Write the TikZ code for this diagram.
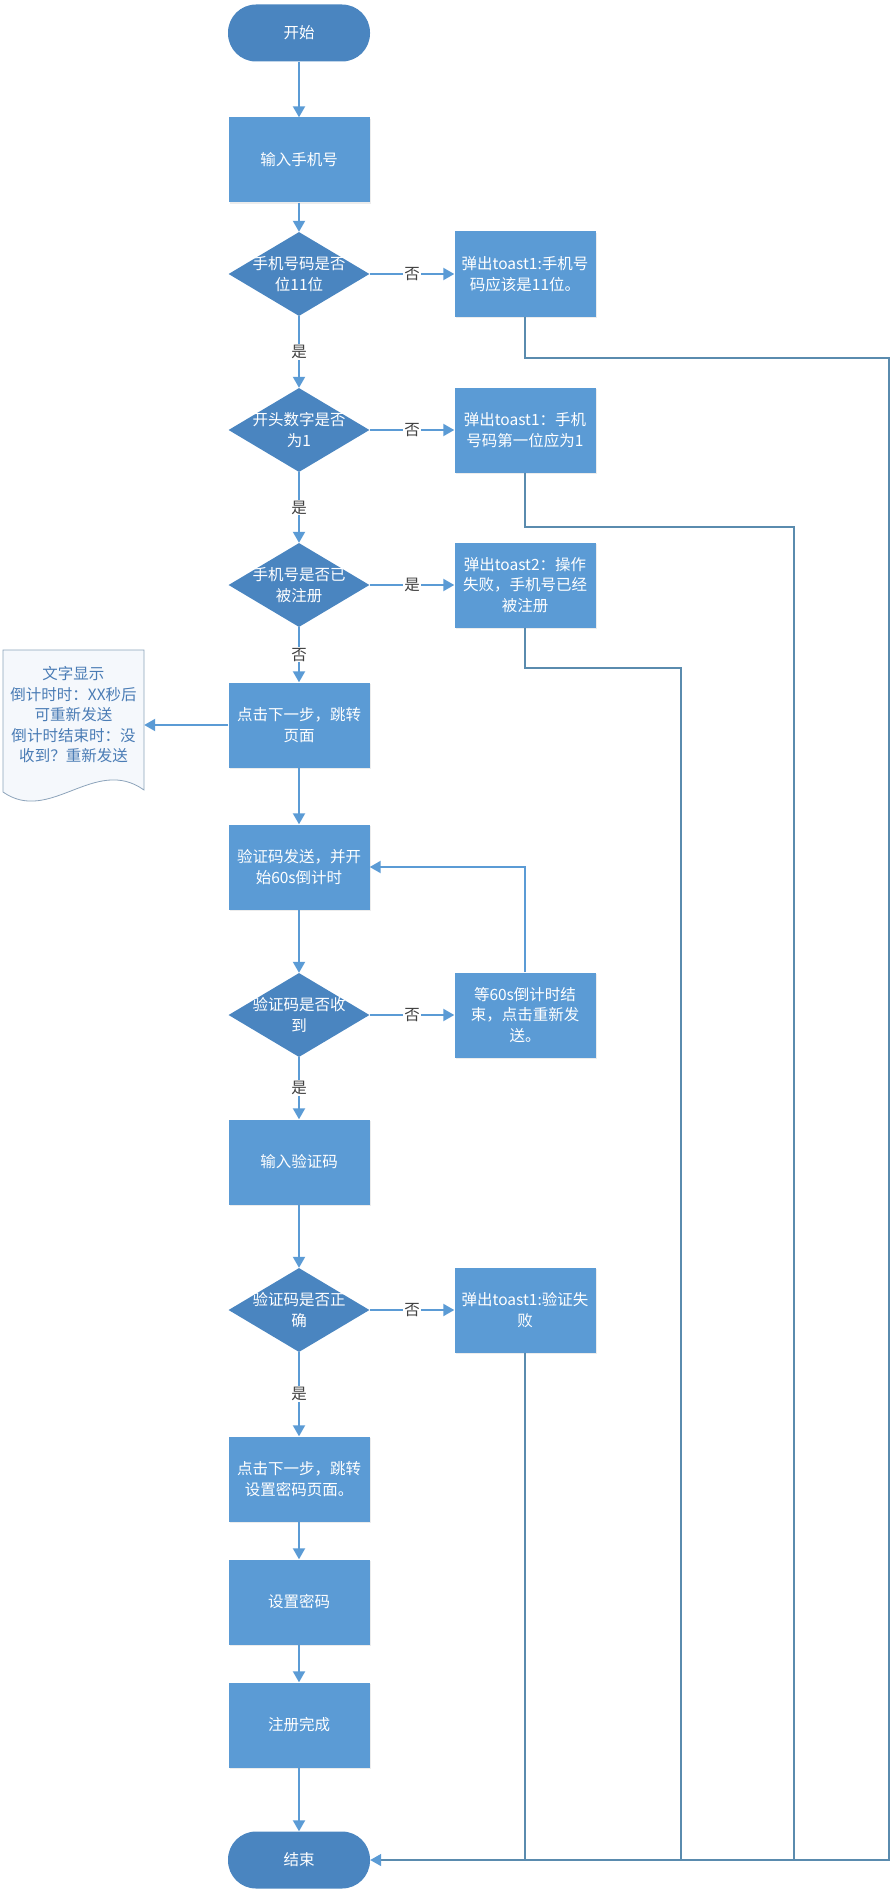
\documentclass[tikz,border=0pt]{standalone}
\usepackage{fontspec}
\setmainfont{Noto Sans CJK SC}
\usepackage{xcolor}
\usetikzlibrary{shapes.geometric,arrows.meta,shadows}

\definecolor{boxblue}{HTML}{5B9BD5}
\definecolor{darkblue}{HTML}{4A85C0}
\definecolor{linegray}{HTML}{5A8BAE}
\definecolor{notetext}{HTML}{4A7CB5}
\definecolor{noteline}{HTML}{8CA3BA}
\definecolor{notefill}{HTML}{F5F8FC}
\definecolor{lbltext}{HTML}{404040}

\begin{document}
\begin{tikzpicture}[x=1pt,y=-1pt]
\tikzstyle{every node}=[font=\fontsize{15.5}{20.5}\selectfont, align=center];
\tikzstyle{terminal}=[fill=darkblue, text=white, rounded corners=28pt, minimum width=142pt, minimum height=57pt];
\tikzstyle{process}=[fill=boxblue, text=white, minimum width=141pt, minimum height=85pt, inner sep=1pt,
  drop shadow={shadow xshift=1.5pt, shadow yshift=-1.5pt, opacity=0.15, fill=gray}];
\tikzstyle{decision}=[diamond, fill=darkblue, minimum width=141pt, minimum height=84pt, inner sep=0pt];
\tikzstyle{dtext}=[text=white];
\tikzstyle{arr}=[draw=boxblue, line width=2pt, -{Triangle[length=11pt,width=12pt]}];
\tikzstyle{back}=[draw=linegray, line width=1.5pt];
\tikzstyle{lbl}=[fill=white, text=lbltext, inner sep=1pt];

\useasboundingbox (0,0) rectangle (891,1902);

% main column
\node[terminal] (start) at (299,33) {开始};
\node[process] (in1) at (299,160) {输入手机号};
\node[decision, label={[dtext]center:手机号码是否\\位11位}] (d1) at (299,274) {};
\node[decision, label={[dtext]center:开头数字是否\\为1}] (d2) at (299,430) {};
\node[decision, label={[dtext]center:手机号是否已\\被注册}] (d3) at (299,585) {};
\node[process] (b4) at (299,725) {点击下一步，跳转\\页面};
\node[process] (b5) at (299,867) {验证码发送，并开\\始60s倒计时};
\node[decision, label={[dtext]center:验证码是否收\\到}] (d6) at (299,1015) {};
\node[process] (b7) at (299,1162) {输入验证码};
\node[decision, label={[dtext]center:验证码是否正\\确}] (d8) at (299,1310) {};
\node[process] (b9) at (299,1479) {点击下一步，跳转\\设置密码页面。};
\node[process] (b10) at (299,1602) {设置密码};
\node[process] (b11) at (299,1725) {注册完成};
\node[terminal] (end) at (299,1860) {结束};

% right column
\node[process] (r1) at (525,274) {弹出toast1:手机号\\码应该是11位。};
\node[process] (r2) at (525,430) {弹出toast1：手机\\号码第一位应为1};
\node[process] (r3) at (525,585) {弹出toast2：操作\\失败，手机号已经\\被注册};
\node[process] (r6) at (525,1015) {等60s倒计时结\\束，点击重新发\\送。};
\node[process] (r8) at (525,1310) {弹出toast1:验证失\\败};

% note on the left
\draw[noteline, fill=notefill, line width=0.8pt] (3,650) -- (144,650) -- (144,790)
  .. controls (95,755) and (50,825) .. (3,792) -- cycle;
\node[text=notetext, minimum width=141pt] (note) at (73.5,715) {文字显示\\倒计时时：XX秒后\\可重新发送\\倒计时结束时：没\\收到？重新发送};

% return lines
\coordinate (k1) at (889,358);
\coordinate (k2) at (794,527);
\coordinate (k3) at (681,668);
\draw[back, -{Triangle[length=11pt,width=12pt,color=boxblue]}] (r1.south) |- (k1) |- (end.east);
\draw[back] (r2.south) |- (k2) -- (k2 |- end.east);
\draw[back] (r3.south) |- (k3) -- (k3 |- end.east);
\draw[back] (r8.south) -- (r8.south |- end.east);

% arrows
\draw[arr] (start) -- (in1);
\draw[arr] (in1) -- (d1);
\draw[arr] (d1) -- node[lbl]{否} (r1);
\draw[arr] (d1) -- node[lbl]{是} (d2);
\draw[arr] (d2) -- node[lbl]{否} (r2);
\draw[arr] (d2) -- node[lbl]{是} (d3);
\draw[arr] (d3) -- node[lbl]{是} (r3);
\draw[arr] (d3) -- node[lbl]{否} (b4);
\draw[arr] (b4.west) -- (b4.west -| note.east);
\draw[arr] (b4) -- (b5);
\draw[arr] (b5) -- (d6);
\draw[arr] (d6) -- node[lbl]{否} (r6);
\draw[arr] (r6.north) |- (b5.east);
\draw[arr] (d6) -- node[lbl]{是} (b7);
\draw[arr] (b7) -- (d8);
\draw[arr] (d8) -- node[lbl]{否} (r8);
\draw[arr] (d8) -- node[lbl]{是} (b9);
\draw[arr] (b9) -- (b10);
\draw[arr] (b10) -- (b11);
\draw[arr] (b11) -- (end);
\end{tikzpicture}
\end{document}
